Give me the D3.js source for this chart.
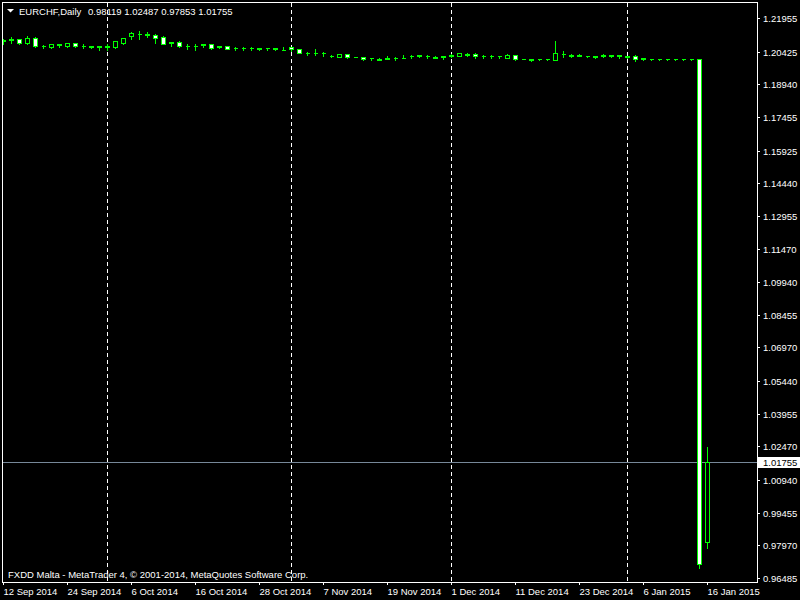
<!DOCTYPE html>
<html>
<head>
<meta charset="utf-8">
<script src="https://cdn.jsdelivr.net/npm/d3@7"></script>
<style>
  body { margin: 0; background: #000; }
  svg { display: block; font-family: 'Liberation Sans', Arial, sans-serif; }
</style>
</head>
<body>
<svg width="800" height="600"></svg>
<script>
// EURCHF daily bars, 12 Sep 2014 .. 16 Jan 2015 (one entry per trading day)
var opens = [1.20909,1.20954,1.21000,1.20818,1.21045,1.20681,1.20636,1.20750,1.20695,1.20831,
  1.20681,1.20636,1.20659,1.20636,1.20636,1.20804,1.21136,1.21227,1.21227,1.21195,
  1.21091,1.20863,1.20877,1.20681,1.20704,1.20727,1.20772,1.20636,1.20681,1.20613,
  1.20590,1.20568,1.20568,1.20590,1.20545,1.20499,1.20622,1.20558,1.20385,1.20363,
  1.20385,1.20226,1.20194,1.20317,1.20181,1.20194,1.20135,1.20067,1.20090,1.20113,
  1.20113,1.20204,1.20249,1.20249,1.20158,1.20240,1.20249,1.20240,1.20294,1.20317,
  1.20226,1.20249,1.20249,1.20149,1.20272,1.20090,1.20045,1.20090,1.20076,1.20058,
  1.20317,1.20249,1.20227,1.20213,1.20227,1.20272,1.20227,1.20250,1.20181,1.20240,
  1.20090,1.20076,1.20085,1.20076,1.20085,1.20076,1.20076,1.20090,0.98119];
var highs = [1.21045,1.21136,1.21045,1.21182,1.21122,1.20786,1.20818,1.20831,1.20876,1.20876,
  1.20804,1.20695,1.20740,1.20831,1.20922,1.21104,1.21364,1.21409,1.21350,1.21286,
  1.21182,1.20922,1.20941,1.20831,1.20804,1.20772,1.20772,1.20740,1.20727,1.20695,
  1.20695,1.20695,1.20636,1.20636,1.20636,1.20681,1.20668,1.20604,1.20467,1.20577,
  1.20467,1.20331,1.20376,1.20363,1.20249,1.20240,1.20194,1.20194,1.20272,1.20226,
  1.20317,1.20317,1.20331,1.20331,1.20272,1.20240,1.20376,1.20422,1.20422,1.20394,
  1.20304,1.20304,1.20249,1.20350,1.20317,1.20122,1.20149,1.20135,1.20090,1.20954,
  1.20499,1.20363,1.20363,1.20258,1.20249,1.20363,1.20331,1.20331,1.20258,1.20317,
  1.20194,1.20135,1.20135,1.20135,1.20135,1.20090,1.20090,1.20100,1.02487];
var lows = [1.20786,1.20818,1.20772,1.20772,1.20622,1.20590,1.20590,1.20622,1.20649,1.20636,
  1.20590,1.20604,1.20513,1.20499,1.20604,1.20772,1.21013,1.21013,1.21091,1.20818,
  1.20759,1.20668,1.20636,1.20558,1.20499,1.20622,1.20558,1.20604,1.20558,1.20513,
  1.20486,1.20486,1.20513,1.20513,1.20499,1.20499,1.20467,1.20350,1.20285,1.20285,
  1.20240,1.20194,1.20194,1.20135,1.20181,1.20044,1.20044,1.20067,1.20090,1.20030,
  1.20113,1.20135,1.20194,1.20135,1.20158,1.20090,1.20167,1.20240,1.20226,1.20149,
  1.20149,1.20149,1.20122,1.20149,1.20044,1.20076,1.20022,1.20044,1.20067,1.20058,
  1.20194,1.20194,1.20204,1.20181,1.20149,1.20167,1.20167,1.20135,1.20135,1.20012,
  1.20067,1.20058,1.20058,1.20044,1.20058,1.20067,1.20067,0.96926,0.97853];
var closes = [1.20954,1.21000,1.20818,1.21045,1.20659,1.20704,1.20772,1.20727,1.20831,1.20668,
  1.20704,1.20659,1.20636,1.20659,1.20895,1.21059,1.21286,1.21250,1.21204,1.21059,
  1.20786,1.20840,1.20681,1.20704,1.20681,1.20772,1.20604,1.20681,1.20558,1.20590,
  1.20613,1.20590,1.20545,1.20568,1.20568,1.20522,1.20531,1.20376,1.20363,1.20385,
  1.20363,1.20249,1.20331,1.20167,1.20194,1.20076,1.20113,1.20090,1.20135,1.20135,
  1.20135,1.20226,1.20272,1.20226,1.20181,1.20195,1.20272,1.20363,1.20340,1.20213,
  1.20249,1.20226,1.20204,1.20285,1.20076,1.20085,1.20090,1.20080,1.20076,1.20350,
  1.20340,1.20272,1.20272,1.20204,1.20181,1.20249,1.20272,1.20204,1.20204,1.20090,
  1.20135,1.20085,1.20076,1.20085,1.20076,1.20076,1.20081,0.97108,1.01755];

// axis labels
var priceTicks = [1.21955,1.20425,1.18940,1.17455,1.15925,1.14440,1.12955,1.11470,1.09940,
  1.08455,1.06970,1.05440,1.03955,1.02470,1.00940,0.99455,0.97970,0.96485];
var dateTickBars = [0,8,16,24,32,40,48,56,64,72,80,88];
var dateLabels = ['12 Sep 2014','24 Sep 2014','6 Oct 2014','16 Oct 2014','28 Oct 2014','7 Nov 2014',
  '19 Nov 2014','1 Dec 2014','11 Dec 2014','23 Dec 2014','6 Jan 2015','16 Jan 2015'];
var monthStartBars = [13,36,56,78];

var bars = opens.map(function(o, i){
  return {i: i, o: o, h: highs[i], l: lows[i], c: closes[i]};
});

var svg = d3.select('svg');
var green = '#00ff00';
var fsize = '9.5px';

svg.append('rect').attr('width', 800).attr('height', 600).attr('fill', '#000');

var x = d3.scaleLinear().domain([0, 88]).range([3, 707]);
var y = d3.scaleLinear().domain([0.96485, 1.21955]).rangeRound([578, 18]);

svg.append('clipPath').attr('id', 'area')
  .append('rect').attr('x', 3).attr('y', 3).attr('width', 754).attr('height', 579);

var plot = svg.append('g').attr('clip-path', 'url(#area)');

// month separators
plot.selectAll('line.sep').data(monthStartBars).enter().append('line')
  .attr('class', 'sep')
  .attr('x1', function(d){ return x(d) + 0.5; })
  .attr('x2', function(d){ return x(d) + 0.5; })
  .attr('y1', 3).attr('y2', 582)
  .attr('stroke', '#fff').attr('stroke-dasharray', '4,3')
  .attr('shape-rendering', 'crispEdges');

// current price line
var last = bars[bars.length - 1];
plot.append('line')
  .attr('x1', 3).attr('x2', 757)
  .attr('y1', y(last.c) + 0.5).attr('y2', y(last.c) + 0.5)
  .attr('stroke', '#778899').attr('shape-rendering', 'crispEdges');

// candles
var candle = plot.selectAll('g.candle').data(bars).enter().append('g').attr('class', 'candle');
candle.append('line')
  .attr('x1', function(d){ return x(d.i) + 0.5; })
  .attr('x2', function(d){ return x(d.i) + 0.5; })
  .attr('y1', function(d){ return y(d.h) + 0.5; })
  .attr('y2', function(d){ return y(d.l) + 0.5; })
  .attr('stroke', green).attr('shape-rendering', 'crispEdges');
candle.append('path')
  .attr('d', function(d){
    var cx = x(d.i);
    var top = y(Math.max(d.o, d.c)) + 0.5, bot = y(Math.min(d.o, d.c)) + 0.5;
    return 'M' + (cx - 1.5) + ',' + top + 'H' + (cx + 2.5) + 'V' + bot + 'H' + (cx - 1.5) + 'Z';
  })
  .attr('fill', function(d){ return d.c < d.o ? '#fff' : '#000'; })
  .attr('stroke', green).attr('shape-rendering', 'crispEdges');

// frame
svg.append('rect').attr('x', 2.5).attr('y', 2.5).attr('width', 755).attr('height', 580)
  .attr('fill', 'none').attr('stroke', '#fff').attr('shape-rendering', 'crispEdges');

// price axis
var yAxis = svg.append('g').attr('transform', 'translate(757,0)')
  .call(d3.axisRight(y).tickValues(priceTicks).tickFormat(d3.format('.5f')).tickSize(3).tickPadding(3));
yAxis.select('.domain').remove();
yAxis.selectAll('line').attr('stroke', '#fff');
yAxis.selectAll('text').attr('fill', '#fff').style('font-size', fsize).style('font-family', null);

// date axis
var xAxis = svg.append('g').attr('transform', 'translate(0,582)')
  .call(d3.axisBottom(x).tickValues(dateTickBars)
    .tickFormat(function(d, i){ return dateLabels[i]; }).tickSize(3).tickPadding(3));
xAxis.select('.domain').remove();
xAxis.selectAll('line').attr('stroke', '#fff');
xAxis.selectAll('text').attr('fill', '#fff').attr('text-anchor', 'start')
  .style('font-size', fsize).style('font-family', null);

// current price tag
var py = y(last.c);
svg.append('rect').attr('x', 758).attr('y', py - 5).attr('width', 42).attr('height', 11).attr('fill', '#fff');
svg.append('text').attr('x', 763).attr('y', py + 4).attr('fill', '#000')
  .style('font-size', fsize).text(d3.format('.5f')(last.c));

// header
svg.append('path').attr('d', 'M7,9H14L10.5,12.5Z').attr('fill', '#fff');
svg.append('text').attr('x', 19).attr('y', 14.5).attr('fill', '#fff').style('font-size', fsize)
  .text('EURCHF,Daily');
svg.append('text').attr('x', 88).attr('y', 14.5).attr('fill', '#fff').style('font-size', fsize)
  .text([last.o, last.h, last.l, last.c].map(d3.format('.5f')).join(' '));

// footer
svg.append('text').attr('x', 8).attr('y', 577.5).attr('fill', '#fff').style('font-size', fsize)
  .text('FXDD Malta - MetaTrader 4, \u00a9 2001-2014, MetaQuotes Software Corp.');
</script>
</body>
</html>
